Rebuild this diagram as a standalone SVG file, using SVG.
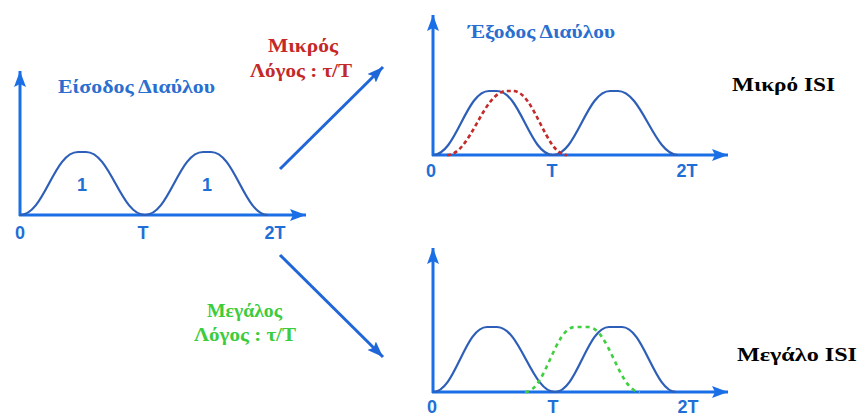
<svg xmlns="http://www.w3.org/2000/svg" width="861" height="417" viewBox="0 0 861 417">
<style>
.axis{stroke:#1a6fe6;stroke-width:3;fill:none}
.curve{stroke:#2e5fb8;stroke-width:2.2;fill:none}
.red{stroke:#c42a2a;stroke-width:2.6;fill:none;stroke-dasharray:4 3}
.green{stroke:#3fd03f;stroke-width:2.6;fill:none;stroke-dasharray:4 4}
.conn{stroke:#1f66d8;stroke-width:3;fill:none}
.lbl{font-family:"Liberation Sans",Arial,sans-serif;font-weight:bold;font-size:18px;fill:#1f6fd6;text-anchor:middle}
.title{font-family:"Liberation Serif","Times New Roman",serif;font-weight:bold;font-size:18px;fill:#2a6fd0}
.rt{font-family:"Liberation Serif","Times New Roman",serif;font-weight:bold;font-size:18px;fill:#c42828}
.gt{font-family:"Liberation Serif","Times New Roman",serif;font-weight:bold;font-size:18px;fill:#3ccc3c}
.isi{font-family:"Liberation Serif","Times New Roman",serif;font-weight:bold;font-size:19px;fill:#000}
</style>
<defs>
<marker id="ah" viewBox="0 0 16 12" refX="16" refY="6" markerWidth="16" markerHeight="12" markerUnits="userSpaceOnUse" orient="auto">
<path d="M0,0 L16,6 L0,12 L3,6 z" fill="#1a6fe6"/>
</marker>
<marker id="ahc" viewBox="0 0 16 12" refX="16" refY="6" markerWidth="16" markerHeight="12" markerUnits="userSpaceOnUse" orient="auto">
<path d="M0,0 L16,6 L0,12 L3,6 z" fill="#1f66d8"/>
</marker>
</defs>

<g id="input">
<text class="title" x="58" y="93" textLength="157" lengthAdjust="spacingAndGlyphs">Είσοδος Διαύλου</text>
<line class="axis" x1="20" y1="216" x2="20" y2="71" marker-end="url(#ah)"/>
<line class="axis" x1="19" y1="215" x2="306" y2="215" marker-end="url(#ah)"/>
<path class="curve" d="M20,215 C44.4,215 53.6,152 78,152 L86,152 C110.4,152 120.6,215 145,215 C169.4,215 178.6,152 203,152 L211,152 C234.8,152 244.2,215 268,215"/>
<text class="lbl" x="82" y="191">1</text>
<text class="lbl" x="207" y="191">1</text>
<text class="lbl" x="20" y="239">0</text>
<text class="lbl" x="143" y="239">T</text>
<text class="lbl" x="275" y="239">2T</text>
</g>

<g id="output-small">
<text class="title" x="468" y="38" textLength="147" lengthAdjust="spacingAndGlyphs">Έξοδος Διαύλου</text>
<line class="axis" x1="433" y1="156" x2="433" y2="15" marker-end="url(#ah)"/>
<line class="axis" x1="432" y1="155" x2="728" y2="155" marker-end="url(#ah)"/>
<path class="curve" d="M433,155 C456.2,155 465.8,91 489,91 L497,91 C520.2,91 529.8,155 553,155 C576.6,155 586.4,91 610,91 L618,91 C642,91 654,155 678,155"/>
<path class="red" d="M447,155 C471,155 483,91 507,91 L513,91 C534.6,91 545.4,155 567,155"/>
<text class="lbl" x="431" y="177">0</text>
<text class="lbl" x="552" y="177">T</text>
<text class="lbl" x="687" y="177">2T</text>
</g>

<g id="output-large">
<line class="axis" x1="433" y1="393" x2="433" y2="248" marker-end="url(#ah)"/>
<line class="axis" x1="432" y1="392" x2="728" y2="392" marker-end="url(#ah)"/>
<path class="curve" d="M433,392 C455.4,392 464.6,327 487,327 L497,327 C520.2,327 531.8,392 555,392 C577,392 587,327 609,327 L622,327 C643.6,327 654.4,392 676,392"/>
<path class="green" d="M525,392 C545.4,392 554.6,327 575,327 L588,327 C609,327 619,392 640,392"/>
<text class="lbl" x="432" y="413">0</text>
<text class="lbl" x="553" y="413">T</text>
<text class="lbl" x="688" y="413">2T</text>
</g>

<g id="label-small">
<text class="rt" x="268" y="52" textLength="70" lengthAdjust="spacingAndGlyphs">Μικρός</text>
<text class="rt" x="250" y="77" textLength="102" lengthAdjust="spacingAndGlyphs">Λόγος : τ/T</text>
</g>
<g id="label-large">
<text class="gt" x="207" y="317" textLength="75" lengthAdjust="spacingAndGlyphs">Μεγάλος</text>
<text class="gt" x="194" y="341" textLength="102" lengthAdjust="spacingAndGlyphs">Λόγος : τ/T</text>
</g>
<g id="isi-small"><text class="isi" x="732" y="91" textLength="103" lengthAdjust="spacingAndGlyphs">Μικρό ISI</text></g>
<g id="isi-large"><text class="isi" x="737" y="361" textLength="120" lengthAdjust="spacingAndGlyphs">Μεγάλο ISI</text></g>

<g id="connectors">
<line class="conn" x1="280" y1="169" x2="383" y2="67" marker-end="url(#ahc)"/>
<line class="conn" x1="280" y1="255" x2="383" y2="357" marker-end="url(#ahc)"/>
</g>
</svg>
